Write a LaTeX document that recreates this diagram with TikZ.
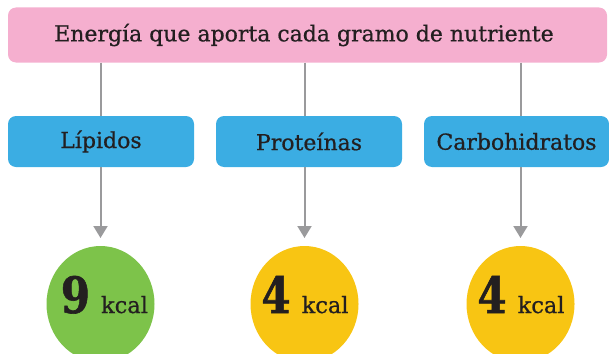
\documentclass[tikz,border=0pt]{standalone}
\usepackage{fontspec}
\setmainfont{DejaVu Serif}
\newfontfamily\medfont{DejaVu Serif}[FakeBold=0.7]
\newfontfamily\heavyfont{DejaVu Serif Bold}[FakeBold=1.2]
\usetikzlibrary{arrows.meta,shapes.geometric}
\definecolor{pinkbox}{HTML}{F5AFCF}
\definecolor{bluebox}{HTML}{3BADE3}
\definecolor{greenc}{HTML}{7DC34A}
\definecolor{yellowc}{HTML}{F8C513}
\definecolor{linegray}{HTML}{9A9A9C}
\definecolor{txt}{HTML}{231F20}
\tikzset{
  titlebox/.style={fill=pinkbox, rounded corners=8pt, minimum width=599pt, minimum height=55pt, inner sep=0pt, text=txt, font=\medfont\fontsize{22}{24}\selectfont},
  catbox/.style={fill=bluebox, rounded corners=8pt, minimum height=51pt, inner sep=0pt, text=txt, font=\medfont\fontsize{22}{24}\selectfont},
  kcalcirc/.style={ellipse, minimum width=108pt, minimum height=116pt, inner sep=0pt, text=txt},
  conn/.style={draw=linegray, line width=2pt},
  arr/.style={conn, -{Triangle[width=14pt,length=12pt]}},
}
\newcommand{\kval}[1]{\scalebox{0.84}[1]{\heavyfont\fontsize{50}{50}\selectfont #1}\hspace{11pt}{\medfont\fontsize{22.5}{22.5}\selectfont kcal}}
\begin{document}
\begin{tikzpicture}[x=1pt,y=-1pt]
\useasboundingbox (0,0) rectangle (609,353);
\clip (0,0) rectangle (609,353);
\node[titlebox] (top) at (307.5,35) {};
\node[text=txt, font=\medfont\fontsize{22}{24}\selectfont] (toptxt) at (304,35) {Energía que aporta cada gramo de nutriente};
\node[catbox, minimum width=186pt] (lip) at (101,141.5) {Lípidos};
\node[catbox, minimum width=186pt] (pro) at (309,141.5) {Proteínas};
\node[catbox, minimum width=185pt] (car) at (516.5,141.5) {Carbohidratos};
\node[kcalcirc, fill=greenc] (c1) at (100.5,304) {};
\node[kcalcirc, fill=yellowc] (c2) at (304.5,304) {};
\node[kcalcirc, fill=yellowc] (c3) at (520.5,304) {};
\node[anchor=base, text=txt] (t1) at (104.4,313) {\kval{9}};
\node[anchor=base, text=txt] (t2) at (305,313) {\kval{4}};
\node[anchor=base, text=txt] (t3) at (521,313) {\kval{4}};
\coordinate (a1) at (100.5,238);
\coordinate (a2) at (304.5,238);
\coordinate (a3) at (520.5,238);
\draw[conn] (top.south -| a1) -- (lip.north -| a1);
\draw[conn] (top.south -| a2) -- (pro.north -| a2);
\draw[conn] (top.south -| a3) -- (car.north -| a3);
\draw[arr] (lip.south -| a1) -- (a1);
\draw[arr] (pro.south -| a2) -- (a2);
\draw[arr] (car.south -| a3) -- (a3);
\end{tikzpicture}
\end{document}
